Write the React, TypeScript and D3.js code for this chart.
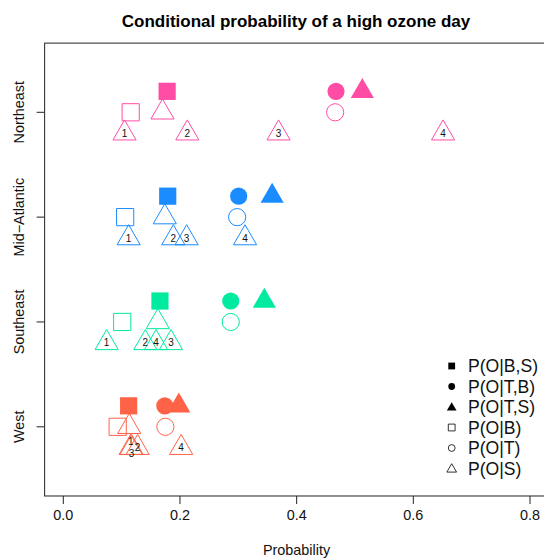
import React from "react";
import * as d3 from "d3";

// Regions, bottom to top (y = 1..4)
const regions = ["West", "Southeast", "Mid\u2212Atlantic", "Northeast"];
const regionColors = ["#FF6347", "#00EBA0", "#1A8CFF", "#FF4DA6"];

// Conditional probabilities per region (West, Southeast, Mid-Atlantic, Northeast)
const pOgivenBS = [0.112, 0.1657, 0.179, 0.178];
const pOgivenTB = [0.174, 0.287, 0.3006, 0.4675];
const pOgivenTS = [0.198, 0.3446, 0.358, 0.5126];
const pOgivenB = [0.0932, 0.101, 0.106, 0.1155];
const pOgivenT = [0.175, 0.287, 0.298, 0.466];
const pOgivenS = [0.113, 0.162, 0.174, 0.17];
// P(O|S) for sub-areas 1..4
const pOgivenS1 = [0.1155, 0.0743, 0.112, 0.105];
const pOgivenS2 = [0.1274, 0.1406, 0.1886, 0.2126];
const pOgivenS3 = [0.117, 0.1846, 0.2114, 0.369];
const pOgivenS4 = [0.202, 0.159, 0.3115, 0.651];

const legendLabels = ["P(O|B,S)", "P(O|T,B)", "P(O|T,S)", "P(O|B)", "P(O|T)", "P(O|S)"];
const legendShapes = ["square", "circle", "triangle", "square", "circle", "triangle"];
const legendFilled = [true, true, true, false, false, false];

const xTicks = [0, 0.2, 0.4, 0.6, 0.8];
const FONT = "'Liberation Sans', Arial, Helvetica, sans-serif";

const W = 544;
const H = 558;

function symbolPath(shape: string, cx: number, cy: number, h: number): string {
  // h = half size (R's RADIUS * cex * char size)
  if (shape === "square") {
    return `M${cx - h},${cy - h}H${cx + h}V${cy + h}H${cx - h}Z`;
  }
  if (shape === "circle") {
    return `M${cx - h},${cy}A${h},${h} 0 1,0 ${cx + h},${cy}A${h},${h} 0 1,0 ${cx - h},${cy}Z`;
  }
  const TRC0 = Math.sqrt((4 * Math.PI) / (3 * Math.sqrt(3)));
  const r = TRC0 * h;
  const yc = r / 2;
  const xc = (r * Math.sqrt(3)) / 2;
  return `M${cx},${cy - r}L${cx + xc},${cy + yc}L${cx - xc},${cy + yc}Z`;
}

export default function App() {
  const x = d3.scaleLinear().domain([0, 0.8]).range([63.3, 530]);
  const y = d3.scaleLinear().domain([1, 4]).range([426.8, 112.3]);
  const [x0, x1] = [x(-0.032), x(0.832)];
  const [yB, yT] = [y(0.34), y(4.66)];
  const HS = 8.6;

  const marks: React.ReactNode[] = [];
  regions.forEach((_, i) => {
    const col = regionColors[i];
    const yv = i + 1;
    const rows: [number, string, boolean, number][] = [
      [pOgivenBS[i], "square", true, yv + 0.2],
      [pOgivenTB[i], "circle", true, yv + 0.2],
      [pOgivenTS[i], "triangle", true, yv + 0.2],
      [pOgivenB[i], "square", false, yv],
      [pOgivenT[i], "circle", false, yv],
      [pOgivenS[i], "triangle", false, yv],
    ];
    rows.forEach(([v, shape, filled, yy], k) => {
      marks.push(
        <path
          key={`m${i}-${k}`}
          d={symbolPath(shape, x(v), y(yy), HS)}
          fill={filled ? col : "none"}
          stroke={filled ? "none" : col}
          strokeWidth={1}
        />
      );
    });
    const subs = [pOgivenS1[i], pOgivenS2[i], pOgivenS3[i], pOgivenS4[i]];
    subs.forEach((v, k) => {
      marks.push(
        <path
          key={`s${i}-${k}`}
          d={symbolPath("triangle", x(v), y(yv - 0.2), HS)}
          fill="none"
          stroke={col}
          strokeWidth={1}
        />
      );
    });
    // label placement: spread labels that sit on top of each other
    const xs = subs.map((v) => x(v));
    const dys = subs.map(() => 0);
    for (let a = 0; a < 4; a++) {
      for (let b = a + 1; b < 4; b++) {
        if (Math.abs(xs[a] - xs[b]) < 4) {
          dys[a] -= 6.5;
          dys[b] += 5.5;
        }
      }
    }
    subs.forEach((v, k) => {
      marks.push(
        <text
          key={`t${i}-${k}`}
          x={x(v)}
          y={y(yv - 0.2) + dys[k]}
          dy="0.35em"
          textAnchor="middle"
          fontSize={10}
          fill="#111"
        >
          {k + 1}
        </text>
      );
    });
  });

  const legendY0 = 366;
  const legendStep = 20.5;

  return (
    <svg width={W} height={H} style={{ display: "block", position: "absolute", left: 0, top: 0 }} fontFamily={FONT}>
      <rect width={W} height={H} fill="#fff" />
      <text x={296} y={26.5} textAnchor="middle" fontWeight="bold" fontSize={17}>
        Conditional probability of a high ozone day
      </text>
      {/* plot box */}
      <rect x={x0} y={yT} width={x1 - x0} height={yB - yT} fill="none" stroke="#222" strokeWidth={1} />
      {/* x axis */}
      {xTicks.map((t) => (
        <g key={t}>
          <line x1={x(t)} x2={x(t)} y1={yB} y2={yB + 8} stroke="#222" />
          <text x={x(t)} y={519.5} textAnchor="middle" fontSize={14.4} fill="#111">
            {d3.format(".1f")(t)}
          </text>
        </g>
      ))}
      <text x={296.5} y={555} textAnchor="middle" fontSize={14.4} fill="#111">
        Probability
      </text>
      {/* y axis */}
      {regions.map((r, i) => (
        <g key={r}>
          <line x1={x0 - 8} x2={x0} y1={y(i + 1)} y2={y(i + 1)} stroke="#222" />
          <text
            transform={`translate(${19},${y(i + 1)}) rotate(-90)`}
            dy="0.35em"
            textAnchor="middle"
            fontSize={14.4}
            fill="#111"
          >
            {r}
          </text>
        </g>
      ))}
      {marks}
      {/* legend */}
      {legendLabels.map((lab, k) => {
        const ly = legendY0 + k * legendStep;
        const hs = legendShapes[k] === "triangle" ? 3.6 : 3.4;
        return (
          <g key={lab}>
            <path
              d={symbolPath(legendShapes[k], 451.7, ly + (legendShapes[k] === "triangle" ? 0.8 : 0), hs)}
              fill={legendFilled[k] ? "#000" : "none"}
              stroke={legendFilled[k] ? "none" : "#000"}
              strokeWidth={0.8}
            />
            <text x={468} y={ly} dy="0.35em" fontSize={17.6} fill="#111">
              {lab}
            </text>
          </g>
        );
      })}
    </svg>
  );
}
